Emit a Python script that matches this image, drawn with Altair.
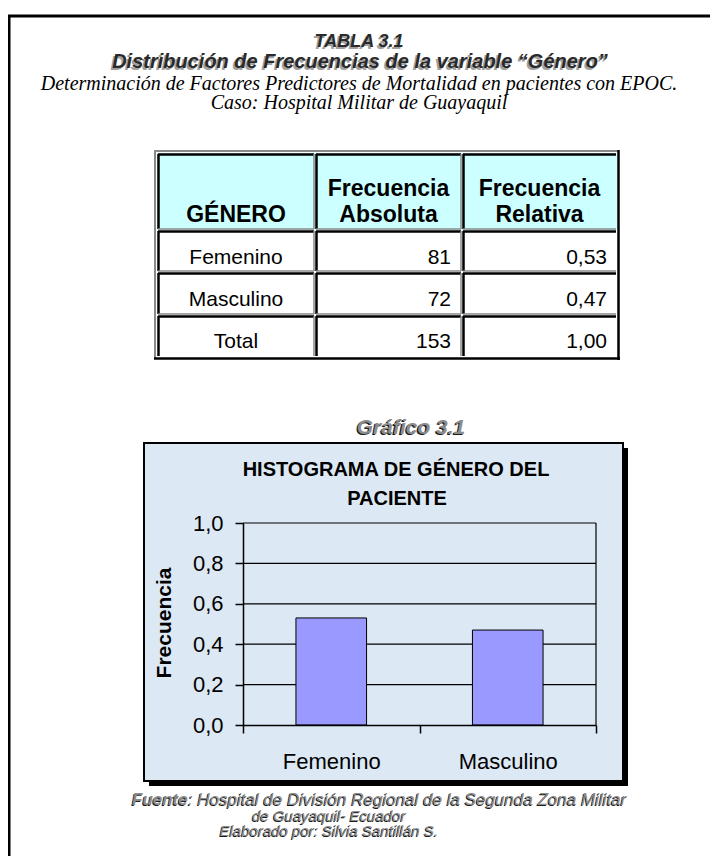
import altair as alt
import pandas as pd

# ---------------- data ----------------
genero = ["Femenino", "Masculino"]
frec_abs = [81, 72]
frec_rel = [0.53, 0.47]
total_label = "Total"
total_abs = 153
total_rel = 1.00
y_ticks = [0.0, 0.2, 0.4, 0.6, 0.8, 1.0]

# ---------------- layout ----------------
SANS = "Liberation Sans, Arial, sans-serif"
SERIF = "Liberation Serif, Times New Roman, serif"
PX0, PY0 = 243, 523          # page position of plot origin
PW, PH = 353, 202            # plot size


def X(p):
    return p - PX0


def Y(p):
    return p - PY0


one = alt.Data(values=[{"k": 1}])


def text(s, x, y, size=20, weight="normal", style="normal", align="center",
         color="black", font=SANS, baseline="alphabetic", angle=0):
    return alt.Chart(one).mark_text(
        text=s, fontSize=size, fontWeight=weight, fontStyle=style, align=align,
        baseline=baseline, color=color, font=font, angle=angle
    ).encode(x=alt.value(X(x)), y=alt.value(Y(y)))


def shadow_text(s, x, y, size, weight="bold", style="italic", align="center",
                fg="#2a2a2a", bg="#a0a0a0", off=(-2, 1.5)):
    return [
        text(s, x + off[0], y + off[1], size, weight, style, align, bg),
        text(s, x, y, size, weight, style, align, fg),
    ]


def rule(x1, y1, x2, y2, color="black", w=1):
    return alt.Chart(one).mark_rule(color=color, strokeWidth=w).encode(
        x=alt.value(X(x1)), y=alt.value(Y(y1)),
        x2=alt.value(X(x2)), y2=alt.value(Y(y2)))


def rect(x1, y1, x2, y2, fill="white", fill_opacity=1.0, stroke="black", sw=0):
    return alt.Chart(one).mark_rect(
        fill=fill, fillOpacity=fill_opacity, stroke=stroke, strokeWidth=sw
    ).encode(x=alt.value(X(x1)), y=alt.value(Y(y1)),
             x2=alt.value(X(x2)), y2=alt.value(Y(y2)))


def fmt_dec(v):
    return f"{v:.2f}".replace(".", ",")


layers = []

# outer frame
layers.append(rect(9, 16, 760, 900, fill="white", fill_opacity=0.0, stroke="black", sw=3))

# titles
layers += shadow_text("TABLA 3.1", 359, 47, 18)
layers += shadow_text("Distribución de Frecuencias de la variable “Género”", 360, 68, 20)
layers.append(text("Determinación de Factores Predictores de Mortalidad en pacientes con EPOC.",
                   359, 90, 20, style="italic", font=SERIF))
layers.append(text("Caso: Hospital Militar de Guayaquil", 359, 109, 20, style="italic", font=SERIF))

# ---------------- table ----------------
xe = [157, 315, 462, 617]
ye = [153, 230, 272, 315, 357]
layers.append(rect(xe[0], ye[0], xe[-1], ye[1], fill="#ccffff"))
# table outer border (outset): gray top/left, black bottom/right
layers.append(rule(154, 151, 619, 151, "#8a8a8a", 2))
layers.append(rule(155, 151, 155, 359, "#8a8a8a", 2))
layers.append(rule(154, 358.5, 620, 358.5, "black", 2.5))
layers.append(rule(618.5, 150, 618.5, 360, "black", 2.5))
# cell borders (inset): black top/left, gray bottom/right
for i in range(3):
    for j in range(4):
        x0, x1 = xe[i], xe[i + 1]
        y0, y1 = ye[j], ye[j + 1]
        layers.append(rule(x0 + 1, y0 + 1.5, x1 - 1, y0 + 1.5, "black", 2.5))
        layers.append(rule(x0 + 1.5, y0 + 1, x0 + 1.5, y1 - 1, "black", 2.5))
        if j < 3:
            layers.append(rule(x0 + 1, y1 - 1, x1 - 1, y1 - 1, "#8a8a8a", 1.5))
        if i < 2:
            layers.append(rule(x1 - 1, y0 + 1, x1 - 1, y1 - 1, "#8a8a8a", 1.5))

c1 = (xe[0] + xe[1]) / 2
c2 = (xe[1] + xe[2]) / 2
c3 = (xe[2] + xe[3]) / 2
layers.append(text("GÉNERO", c1, 222, 23, weight="bold"))
layers.append(text("Frecuencia", c2, 196, 23, weight="bold"))
layers.append(text("Absoluta", c2, 222, 23, weight="bold"))
layers.append(text("Frecuencia", c3, 196, 23, weight="bold"))
layers.append(text("Relativa", c3, 222, 23, weight="bold"))

row_base = [264, 306, 348]
names = genero + [total_label]
abs_vals = frec_abs + [total_abs]
rel_vals = frec_rel + [total_rel]
for k in range(3):
    layers.append(text(names[k], c1, row_base[k], 21))
    layers.append(text(str(abs_vals[k]), 451, row_base[k], 21, align="right"))
    layers.append(text(fmt_dec(rel_vals[k]), 607, row_base[k], 21, align="right"))

# ---------------- chart box ----------------
layers += shadow_text("Gráfico  3.1", 411, 434, 21, fg="#8c8c8c", bg="#1a1a1a", off=(-1.3, 1.3))
layers.append(rect(149, 448, 628, 786, fill="black"))
layers.append(rect(144, 443, 623, 781, fill="#dce8f4", stroke="black", sw=2))
layers.append(text("HISTOGRAMA DE GÉNERO DEL", 396, 476, 20, weight="bold"))
layers.append(text("PACIENTE", 397, 505, 20, weight="bold"))
layers.append(text("Frecuencia", 165, 623, 21, weight="bold", angle=270, baseline="middle"))

y_axis = alt.Axis(title=None, values=y_ticks, format=".1f",
                  labelExpr="replace(datum.label, '.', ',')",
                  labelFont=SANS, labelFontSize=22, labelColor="black",
                  labelPadding=12, tickSize=8, tickColor="black", tickWidth=1.5,
                  domainColor="black", domainWidth=1.5, grid=False, zindex=1)
y_scale = alt.Scale(domain=[0, 1], nice=False, zero=True)

# gridlines (behind bars)
grid = alt.Chart(pd.DataFrame({"Frecuencia relativa": y_ticks[1:]})).mark_rule(
    color="black", strokeWidth=1.2
).encode(y=alt.Y("Frecuencia relativa:Q", scale=y_scale, axis=y_axis))
layers.append(grid)
# plot right border
layers.append(alt.Chart(one).mark_rule(color="black", strokeWidth=1.2).encode(
    x=alt.value(PW), y=alt.value(0), y2=alt.value(PH)))

df = pd.DataFrame({"Género": genero, "Frecuencia relativa": frec_rel})
bars = alt.Chart(df).mark_bar(
    width=alt.RelativeBandSize(0.4), fill="#9999ff", stroke="black", strokeWidth=1
).encode(
    x=alt.X("Género:N", sort=genero,
            scale=alt.Scale(paddingInner=0, paddingOuter=0),
            axis=alt.Axis(title=None, labelAngle=0, labelFont=SANS, labelFontSize=22,
                          labelColor="black", labelPadding=18, tickBand="extent",
                          tickSize=8, tickColor="black", tickWidth=1.5,
                          domainColor="black", domainWidth=1.5, grid=False, zindex=1)),
    y=alt.Y("Frecuencia relativa:Q", scale=y_scale, axis=y_axis),
)
layers.append(bars)

# ---------------- footer ----------------
FT = dict(fg="#8c8c8c", bg="#1a1a1a", off=(-1, 1))
layers += shadow_text("Fuente", 132, 805, 17, align="left", **FT)
layers += shadow_text(": Hospital de División Regional de la Segunda Zona Militar", 188, 805, 17,
                      weight="normal", align="left", **FT)
layers += shadow_text("de Guayaquil- Ecuador", 329, 821, 15, weight="normal", **FT)
layers += shadow_text("Elaborado por: Silvia Santillán S.", 329, 836, 15, weight="normal", **FT)

chart = alt.layer(*layers).properties(
    width=PW, height=PH,
    autosize=alt.AutoSizeParams(type="none"),
    padding={"left": PX0 - 8, "top": PY0 - 8, "right": 718 - 16 - (PX0 - 8) - PW,
             "bottom": 864 - 16 - (PY0 - 8) - PH},
    background="white",
).configure_view(stroke=None)

chart.save("out.html", embed_options={"renderer": "svg", "actions": False})
